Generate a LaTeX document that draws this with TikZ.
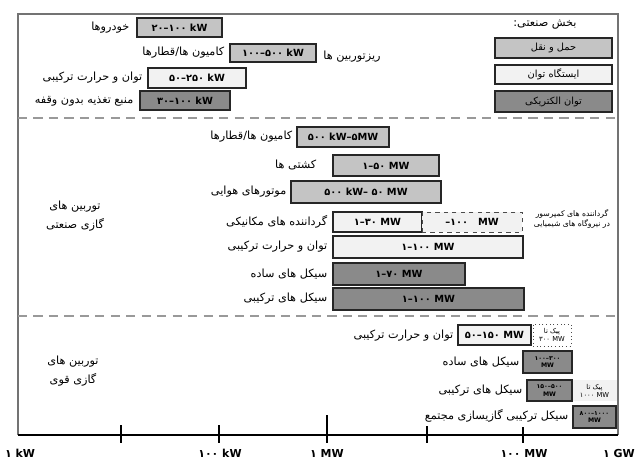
\documentclass[tikz,border=0pt]{standalone}
\usepackage{fontspec}
\usepackage{tikz}
\newfontfamily\arfont[Script=Arabic]{DejaVu Sans}
\TeXXeTstate=1
\newcommand{\rng}[2]{\hbox{#1}–\hbox{#2}}
\definecolor{barmid}{gray}{0.77}
\definecolor{barlight}{gray}{0.95}
\definecolor{bardark}{gray}{0.54}
\tikzset{
  lbl/.style={font=\arfont\fontsize{8}{9}\selectfont, inner sep=1pt},
  tinylbl/.style={font=\arfont\fontsize{4.8}{5.6}\selectfont, inner sep=0pt, align=center},
  bar/.style={draw=black!85, line width=0.9pt, inner sep=0pt, align=center,
    font=\arfont\bfseries\fontsize{7}{8}\selectfont},
  smallbar/.style={bar, font=\arfont\bfseries\fontsize{4.4}{5}\selectfont},
  extbar/.style={draw=black!70, dashed, line width=0.6pt, inner sep=0pt, align=center},
  sep/.style={gray!80, line width=1.6pt, dash pattern=on 6.5pt off 4.5pt},
  ticklbl/.style={font=\arfont\bfseries\fontsize{7.8}{9}\selectfont, inner sep=0pt}
}
\begin{document}
\begin{tikzpicture}[x=0.025cm, y=-0.025cm]
		\useasboundingbox (0,0) rectangle (638,463);
		% frame, axis and separators
		\draw[gray!90!black, line width=0.9pt] (18,435) -- (18,14) -- (618,14) -- (618,435);
		\draw[line width=0.9pt] (18,435) -- (618,435);
		\foreach \x/\ytop in {121/425, 219/425, 327/415, 427/426, 523/427}
			\draw[line width=0.8pt] (\x,\ytop) -- (\x,443);
		\foreach \y in {118, 316}
			\draw[sep] (18,\y) -- (618,\y);
		\foreach \n/\x/\t in {a/20/{۱ kW}, b/220/{۱۰۰ kW}, c/327/{۱ MW}, d/524/{۱۰۰ MW}, e/619/{۱ GW}}
			\node[ticklbl] (tick\n) at (\x,453) {\t};
		% bars
		\foreach \n/\xa/\ya/\xb/\yb/\col/\txt in {
				cars/137/18/222/37/barmid/{\rng{۲۰}{۱۰۰} kW},
				trucks/230/44/316/62/barmid/{\rng{۱۰۰}{۵۰۰} kW},
				chpmicro/148/68/246/88/barlight/{\rng{۵۰}{۲۵۰} kW},
				ups/140/91/230/110/bardark/{\rng{۳۰}{۱۰۰} kW},
				legA/495/38/612/58/barmid/{\mdseries\beginR حمل و نقل\endR},
				legB/495/65/612/84/barlight/{\mdseries\beginR ایستگاه توان\endR},
				legC/495/91/612/112/bardark/{\mdseries\beginR توان الکتریکی\endR},
				trains/297/127/389/147/barmid/{\hbox{۵۰۰ kW}–\hbox{۵MW}},
				ships/333/155/439/176/barmid/{\rng{۱}{۵۰} MW},
				aero/291/181/441/203/barmid/{\hbox{۵۰۰ kW}– \hbox{۵۰ MW}},
				mech/333/212/422/232/barlight/{\rng{۱}{۳۰} MW},
				chpind/333/236/523/258/barlight/{\rng{۱}{۱۰۰} MW},
				simind/333/263/465/285/bardark/{\rng{۱}{۷۰} MW},
				comind/333/288/524/310/bardark/{\rng{۱}{۱۰۰} MW},
				chpheavy/458/325/531/345/barlight/{\rng{۵۰}{۱۵۰} MW}}
			\node[bar, fill=\col, minimum width={(\xb-\xa)*0.025cm}, minimum height={(\yb-\ya)*0.025cm}]
				(\n) at ({(\xa+\xb)/2},{(\ya+\yb)/2}) {\txt};
		\foreach \n/\xa/\ya/\xb/\yb/\txt in {
				simheavy/523/351/572/373/{\rng{۱۰۰}{۳۰۰}\\MW},
				comheavy/527/380/572/401/{\rng{۱۵۰}{۵۰۰}\\MW},
				igcc/573/406/616/428/{\rng{۸۰۰}{۱۰۰۰}\\MW}}
			\node[smallbar, fill=bardark, minimum width={(\xb-\xa)*0.025cm}, minimum height={(\yb-\ya)*0.025cm}]
				(\n) at ({(\xa+\xb)/2},{(\ya+\yb)/2}) {\txt};
		% dashed extensions
		\node[extbar, fill=barlight, font=\arfont\bfseries\fontsize{7}{8}\selectfont, minimum width=2.5cm, minimum height=0.5cm]
			(mechext) at (472,222) {–\hbox{۱۰۰}\quad MW};
		\node[extbar, dotted, tinylbl, minimum width=0.95cm, minimum height=0.55cm]
			(chpext) at (552,335) {\beginR پیک تا\endR\\۳۰۰ MW};
		\node[extbar, draw=none, fill=barlight, tinylbl, minimum width=1.1cm, minimum height=0.52cm]
			(comext) at (594.5,390.5) {\beginR پیک تا\endR\\۱۰۰۰ MW};
		% labels, top section
		\node[lbl, anchor=east] (lcars) at (131,28) {\beginR خودروها\endR};
		\node[lbl, anchor=east] (ltrucks) at (226,53) {\beginR کامیون ها/قطارها\endR};
		\node[lbl] (lmicro) at (352,57) {\beginR ریزتوربین ها\endR};
		\node[lbl, anchor=east] (lchpmicro) at (144,78) {\beginR توان و حرارت ترکیبی\endR};
		\node[lbl, anchor=east] (lups) at (135,101) {\beginR منبع تغذیه بدون وقفه\endR};
		\node[lbl] (lsector) at (545,25) {\beginR بخش صنعتی:\endR};
		% labels, industrial section
		\node[lbl, align=center] (lind) at (75,216) {\beginR توربین های\endR\\[3pt]\beginR گازی صنعتی\endR};
		\node[lbl, anchor=east] (ltrains) at (294,137) {\beginR کامیون ها/قطارها\endR};
		\node[lbl, anchor=east] (lships) at (318,165) {\beginR کشتی ها\endR};
		\node[lbl, anchor=east] (laero) at (288,192) {\beginR موتورهای هوایی\endR};
		\node[lbl, anchor=east] (lmech) at (329,222) {\beginR گرداننده های مکانیکی\endR};
		\node[tinylbl, font=\arfont\fontsize{5.5}{6.4}\selectfont] (lcomp) at (572,219) {\beginR گرداننده های کمپرسور\endR\\[1pt]\beginR در نیروگاه های شیمیایی\endR};
		\node[lbl, anchor=east] (lchpind) at (329,247) {\beginR توان و حرارت ترکیبی\endR};
		\node[lbl, anchor=east] (lsimind) at (329,274) {\beginR سیکل های ساده\endR};
		\node[lbl, anchor=east] (lcomind) at (329,299) {\beginR سیکل های ترکیبی\endR};
		% labels, heavy duty section
		\node[lbl, align=center] (lheavy) at (73,371) {\beginR توربین های\endR\\[3pt]\beginR گازی قوی\endR};
		\node[lbl, anchor=east] (lchpheavy) at (455,336) {\beginR توان و حرارت ترکیبی\endR};
		\node[lbl, anchor=east] (lsimheavy) at (521,362) {\beginR سیکل های ساده\endR};
		\node[lbl, anchor=east] (lcomheavy) at (524,391) {\beginR سیکل های ترکیبی\endR};
		\node[lbl, anchor=east] (ligcc) at (570,416) {\beginR سیکل ترکیبی گازیسازی مجتمع\endR};
	\end{tikzpicture}
\end{document}
